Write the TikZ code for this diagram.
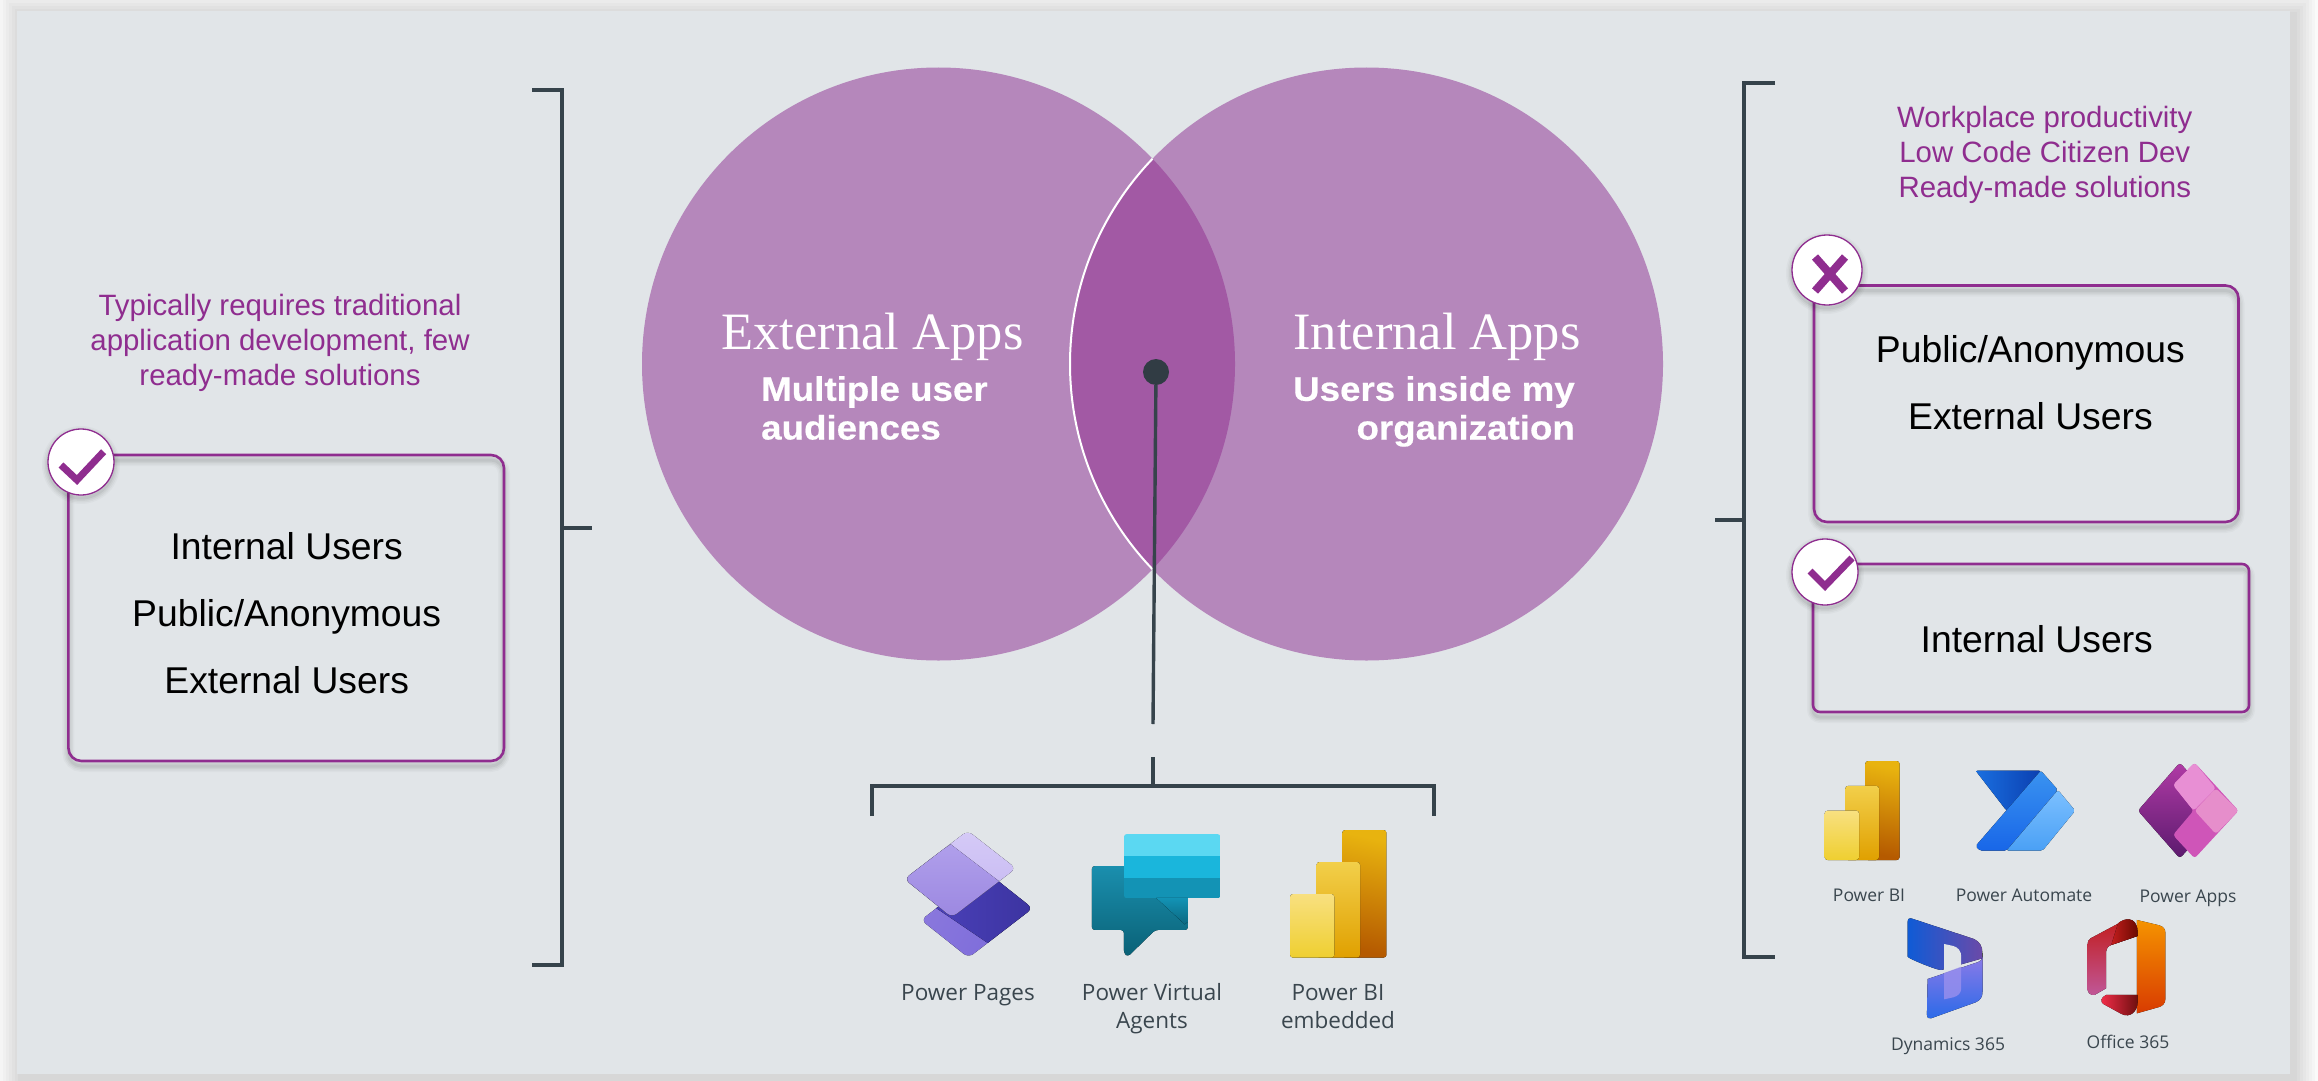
\documentclass[tikz,border=0pt]{standalone}
\usepackage{fontspec}
\setmainfont{Liberation Sans}
\newfontfamily\serifapps{Liberation Serif}
\newfontfamily\uifont{Open Sans}
\newfontfamily\subfont[UprightFont=* Bold,FakeStretch=1.08,FakeBold=0.5]{Liberation Sans}
\usetikzlibrary{calc}
\newcommand{\dc}[1]{\definecolor{c#1}{HTML}{#1}}
\dc{E8B30F}\dc{B55A00}\dc{F2CF4A}\dc{E0A000}\dc{F8E080}\dc{EFCF30}
\dc{7B6ADA}\dc{8B79DD}\dc{4A40B8}\dc{3B339F}\dc{D6CBF7}\dc{C3B5F1}\dc{B09FEB}\dc{9A86E0}
\dc{1A8FAE}\dc{0A6176}\dc{1393B5}\dc{1AB6DC}\dc{5BD8F2}\dc{0B6880}
\dc{1A6FE0}\dc{0B3FB0}\dc{3A93F0}\dc{1866E8}\dc{7CC0FF}\dc{4AA0F5}
\dc{B03BA5}\dc{5B1A6E}\dc{E88FD4}\dc{CF55B8}\dc{E68ECB}
\dc{0F5BD6}\dc{6B4AA8}\dc{8A7AE8}\dc{2A6AE8}\dc{9A90EE}
\dc{F59300}\dc{D83B01}\dc{6B0A00}\dc{C21D1D}\dc{F52D4A}\dc{6E0F0F}\dc{C0589A}
\definecolor{panel}{HTML}{E1E5E8}
\definecolor{ink}{HTML}{36434B}
\definecolor{plum}{HTML}{8F2D8F}
\definecolor{venn}{HTML}{B587BB}
\definecolor{lens}{HTML}{A259A4}
\definecolor{uitext}{HTML}{3A464E}
\tikzset{
  brk/.style={draw=ink,line width=4pt,line cap=butt,line join=miter},
  cardbox/.style={draw=plum,line width=2.6pt,rounded corners=13pt},
  badge/.style={circle,draw=plum,line width=1.3pt,fill=white,inner sep=0pt},
  glyphline/.style={draw=plum,line width=7pt,line cap=butt,line join=miter},
  plumtext/.style={text=plum,inner sep=0pt,align=center,font=\fontsize{29.4}{35}\selectfont},
  usertext/.style={text=black,inner sep=0pt,align=center,font=\fontsize{37.3}{67}\selectfont},
  headtext/.style={text=white,inner sep=0pt,font=\serifapps\fontsize{52.5}{60}\selectfont},
  subtext/.style={text=white,inner sep=0pt,font=\subfont\fontsize{34}{38.7}\selectfont},
  iconlabel/.style={text=uitext,inner sep=0pt,align=center,font=\uifont\fontsize{22.5}{28}\selectfont},
  iconlabelsm/.style={text=uitext,inner sep=0pt,align=center,font=\uifont\fontsize{17.5}{22}\selectfont},
}
\newcommand{\softshadow}[1]{%
  \foreach \w/\o in {12/.025,9/.03,6/.04,3/.05}{
    \draw[black,opacity=\o,line width=\w pt] #1;
  }}
\newcommand{\pbiicon}{%
  \fill[rounded corners=3pt,top color=cE8B30F,bottom color=cB55A00,shading angle=-12] (132,0) rectangle (244,383);
  \fill[rounded corners=3pt,top color=cF2CF4A,bottom color=cE0A000] (67,96) rectangle (177,383);
  \fill[rounded corners=3pt,top color=cF8E080,bottom color=cEFCF30] (0,192) rectangle (112,383);
}
\begin{document}
\begin{tikzpicture}[x=1pt,y=-1pt]
\useasboundingbox (0,0) rectangle (2318,1081);
\fill[white] (0,0) rectangle (2318,1081);
\foreach \d in {24,21,18,15,12,9,6,3}{
  \fill[black,opacity=.02] (17+4-\d,11+4-\d) rectangle (2290+4+\d,1074+4+\d);
}
\fill[panel] (17,11) rectangle (2290,1074);

% Venn
\coordinate (cL) at (938.5,364);
\coordinate (cR) at (1366.5,364);
\fill[venn] (cL) circle (296.5);
\fill[venn] (cR) circle (296.5);
\begin{scope}
  \clip (cL) circle (296.5);
  \fill[lens] (cR) circle (296.5);
  \draw[white,line width=2pt] (cR) circle (296.5);
\end{scope}
\node[headtext,anchor=base] (extT) at (872.5,349) {External Apps};
\node[headtext,anchor=base] (intT) at (1437,349) {Internal Apps};
\node[subtext,anchor=base west,align=left] (extS) at (761,439.5) {Multiple user\\audiences};
\node[subtext,anchor=base east,align=right] (intS) at (1575,439.5) {Users inside my\\organization};

% Hub
\node[circle,fill=ink!90!black,minimum size=26pt,inner sep=0pt] (hub) at (1156,372) {};
\coordinate (stemEnd) at (1153,724);
\draw[ink,line width=3.4pt] (hub) -- (stemEnd);

% lower bracket
\coordinate (bL) at (872,816);
\coordinate (bLt) at (872,786);
\coordinate (bRt) at (1434,786);
\coordinate (bR) at (1434,816);
\coordinate (bS) at (1153,757);
\coordinate (bSt) at (1153,786);
\draw[brk] (bL) -- (bLt) -- (bRt) -- (bR);
\draw[brk] (bS) -- (bSt);

% left bracket
\coordinate (l1) at (532,90);\coordinate (l2) at (561.5,90);
\coordinate (l3) at (561.5,965);\coordinate (l4) at (532,965);
\coordinate (lt1) at (561.5,528);\coordinate (lt2) at (592,528);
\draw[brk] (l1) -- (l2) -- (l3) -- (l4);
\draw[brk] (lt1) -- (lt2);

% right bracket
\coordinate (r1) at (1775,82.5);\coordinate (r2) at (1744,82.5);
\coordinate (r3) at (1744,957);\coordinate (r4) at (1775,957);
\coordinate (rt1) at (1744,520);\coordinate (rt2) at (1714.5,520);
\draw[brk] (r1) -- (r2) -- (r3) -- (r4);
\draw[brk] (rt1) -- (rt2);

% left text and card
\node[plumtext,anchor=base] (leftnote) at (280,385) {Typically requires traditional\\application development, few\\ready-made solutions};
\begin{scope}[shift={(0,5)}]
  \softshadow{[rounded corners=13pt] (68.4,455) rectangle (504,761)}
\end{scope}
\draw[cardbox] (68.4,455) rectangle (504,761);
\node[usertext,anchor=base] (leftusers) at (286.7,693) {Internal Users\\Public/Anonymous\\External Users};
\begin{scope}[shift={(0,3)}]
  \softshadow{(81,462) circle (33)}
\end{scope}
\node[badge,minimum size=66pt] (bL1) at (81,462) {};
\draw[glyphline] (61,465) -- (77,480) -- (103.6,451.7);

% right text and cards
\node[plumtext,anchor=base] (rightnote) at (2044.8,197) {Workplace productivity\\Low Code Citizen Dev\\Ready-made solutions};
\begin{scope}[shift={(0,5)}]
  \softshadow{[rounded corners=13pt] (1814,285.5) rectangle (2238.5,522)}
\end{scope}
\draw[cardbox] (1814,285.5) rectangle (2238.5,522);
\node[usertext,anchor=base] (rightusers) at (2030.4,429) {Public/Anonymous\\External Users};
\begin{scope}[shift={(0,3)}]
  \softshadow{(1827,270) circle (35)}
\end{scope}
\node[badge,minimum size=70pt] (bR1) at (1827,270) {};
\draw[glyphline,line width=8pt] (1815,257) -- (1845,291);
\draw[glyphline,line width=8pt] (1845,257) -- (1815,291);

\begin{scope}[shift={(0,5)}]
  \softshadow{[rounded corners=7pt] (1813,564) rectangle (2249,712)}
\end{scope}
\draw[cardbox,rounded corners=7pt] (1813,564) rectangle (2249,712);
\node[usertext,anchor=base] (rightint) at (2036.8,652) {Internal Users};
\begin{scope}[shift={(0,3)}]
  \softshadow{(1825,572) circle (33)}
\end{scope}
\node[badge,minimum size=66pt] (bR2) at (1825,572) {};
\draw[glyphline] (1810,571) -- (1825,586) -- (1852,558);

% ---- Lower icons (crop space 840,780)
\begin{scope}[shift={(840,780)},x=0.3954pt,y=-0.3333pt]
  % Power Pages: lower sheet
  \begin{scope}
    \clip[rounded corners=6pt] (205,420) -- (367,272) -- (487,385) -- (325,533) -- cycle;
    \fill[left color=c8B79DD,right color=c7B6ADA,shading angle=60] (190,260) rectangle (500,540);
    \fill[left color=c4A40B8,right color=c3B339F] (367,260) -- (500,385) -- (375,490) -- (238,380) -- cycle;
  \end{scope}
  % Power Pages: upper sheet
  \begin{scope}
    \clip[rounded corners=6pt] (323,152) -- (445,265) -- (283,412) -- (163,297) -- cycle;
    \fill[top color=cD6CBF7,bottom color=cC3B5F1] (150,140) rectangle (460,420);
    \fill[top color=cB09FEB,bottom color=c9A86E0] (280,193) -- (420,320) -- (283,430) -- (150,297) -- cycle;
  \end{scope}
  % Power Virtual Agents
  \fill[rounded corners=3pt,top color=c1A8FAE,bottom color=c0A6176] (637,258) -- (880,258) -- (880,450) -- (797,450) -- (728,530) -- (718,520) -- (718,450) -- (637,450) -- cycle;
  \begin{scope}
    \clip[rounded corners=3pt] (718,162) -- (962,162) -- (962,355) -- (718,355) -- cycle;
    \fill[c5BD8F2] (718,162) rectangle (962,229);
    \fill[c1AB6DC] (718,228) rectangle (962,296);
    \fill[c1393B5] (718,295) rectangle (962,355);
  \end{scope}
  \fill[top color=c1393B5,bottom color=c0B6880] (800,354) -- (880,354) -- (880,425) -- (872,433) -- cycle;
\end{scope}
% Power BI embedded
\begin{scope}[shift={(1290,830)},x=0.3954pt,y=-0.3333pt]
  \pbiicon
\end{scope}
% Power BI right
\begin{scope}[shift={(1824.6,761)},x=0.3075pt,y=-0.2585pt]
  \pbiicon
\end{scope}

% ---- Right icons (crop space 1780,740)
\begin{scope}[shift={(1780,740)},x=0.3432pt,y=-0.3333pt]
  % Power Automate
  \fill[rounded corners=2pt,left color=c1A6FE0,right color=c0B3FB0] (570,92) -- (760,92) -- (660,212) -- cycle;
  \fill[rounded corners=2pt,top color=c3A93F0,bottom color=c1866E8] (760,92) -- (810,150) -- (660,332) -- (582,332) -- (570,318) -- cycle;
  \fill[rounded corners=2pt,top color=c7CC0FF,bottom color=c4AA0F5] (810,150) -- (860,212) -- (765,332) -- (660,332) -- cycle;
  % Power Apps
  \fill[rounded corners=3pt,top color=cB03BA5,bottom color=c5B1A6E] (1165,68) -- (1290,212) -- (1165,355) -- (1043,212) -- cycle;
  \fill[rounded corners=3pt,fill=cCF55B8] (1208,68) -- (1336,212) -- (1208,355) -- (1145,285) -- (1205,212) -- (1145,135) -- cycle;
  \fill[rounded corners=3pt,fill=cE88FD4] (1208,68) -- (1270,145) -- (1205,212) -- (1145,135) -- cycle;
  \fill[rounded corners=3pt,fill=cE68ECB] (1270,145) -- (1336,212) -- (1270,282) -- (1208,212) -- cycle;
  % Dynamics 365
  \fill[left color=c0F5BD6,right color=c6B4AA8] (372,545) .. controls (372,535) and (378,533) .. (388,537) -- (565,597) .. controls (582,605) and (590,620) .. (590,640) -- (590,655) -- (470,690) .. controls (460,692) and (372,655) .. (372,650) -- cycle;
  \fill[panel] (478,612) -- (505,618) .. controls (520,622) and (528,635) .. (528,650) -- (528,680) -- (478,700) -- cycle;
  \fill[top color=c8A7AE8,bottom color=c2A6AE8] (430,717) -- (575,667) .. controls (585,663) and (590,658) .. (590,650) -- (590,755) .. controls (590,770) and (585,780) .. (570,787) -- (440,835) .. controls (432,838) and (428,832) .. (428,825) -- cycle;
  \fill[c9A90EE,opacity=.8] (478,699) -- (528,680) -- (528,745) .. controls (528,760) and (518,768) .. (505,772) -- (478,778) -- cycle;
  % Office 365
  \fill[top color=cF59300,bottom color=cD83B01] (1040,540) -- (1105,556) .. controls (1118,560) and (1123,568) .. (1123,580) -- (1123,775) .. controls (1123,790) and (1115,798) .. (1105,801) -- (1040,820) -- cycle;
  \fill[top color=cC21D1D,bottom color=cC0589A] (1005,540) -- (905,595) .. controls (898,600) and (896,605) .. (896,615) -- (896,750) .. controls (898,765) and (915,770) .. (925,760) -- (950,745) -- (950,635) .. controls (950,625) and (955,620) .. (965,615) -- (1042,588) -- cycle;
  \fill[left color=cC21D1D,right color=c6B0A00] (985,550) .. controls (1000,535) and (1040,525) .. (1042,575) -- (1042,588) -- (965,615) -- cycle;
  \fill[left color=cF52D4A,right color=c6E0F0F] (950,765) -- (1042,765) -- (1042,785) .. controls (1042,815) and (1020,835) .. (995,822) -- (942,792) .. controls (932,785) and (935,772) .. (950,765) -- cycle;
\end{scope}

% ---- Icon labels
\node[iconlabel,anchor=base] (lPP) at (968,1000.7) {Power Pages};
\node[iconlabel,anchor=base] (lPV) at (1152,1028) {Power Virtual\\Agents};
\node[iconlabel,anchor=base] (lPB) at (1338,1028) {Power BI\\embedded};
\node[iconlabelsm,anchor=base] (rPB) at (1869,901) {Power BI};
\node[iconlabelsm,anchor=base] (rPA) at (2024,901) {Power Automate};
\node[iconlabelsm,anchor=base] (rPP) at (2188,902) {Power Apps};
\node[iconlabelsm,anchor=base] (rDy) at (1948,1050) {Dynamics 365};
\node[iconlabelsm,anchor=base] (rOf) at (2128,1048) {Office 365};
\end{tikzpicture}
\end{document}
